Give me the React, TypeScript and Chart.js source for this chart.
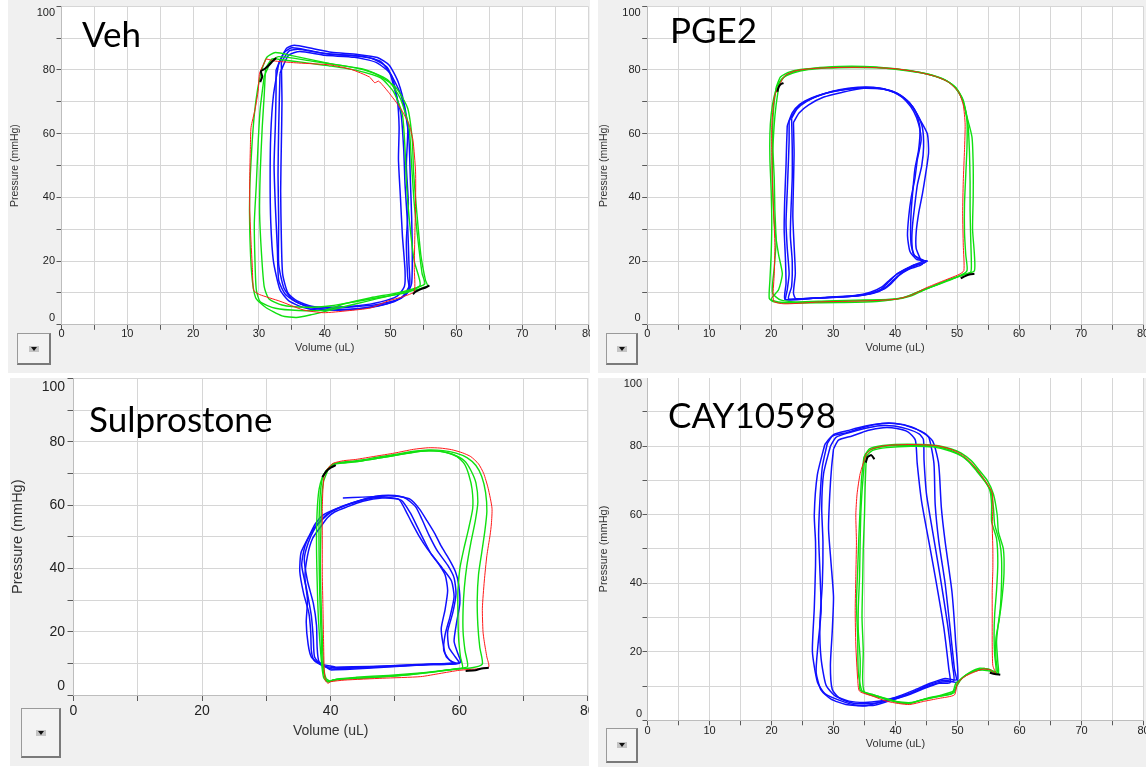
import React, { useEffect, useRef } from 'react';
import { Chart, registerables } from 'chart.js';

Chart.register(...registerables);

type Pt = [number, number];

// ---------------- Veh ----------------
const VEH_BLUE_1: Pt[] = [[33.0,82],[34.2,86.8],[35.4,87.8],[38,86.8],[41,85.6],[45,84.9],[48,83.9],[49.8,81.5],[51.2,76],[52.2,68],[52.8,58],[53,46],[53.2,34],[53.3,22],[53.2,13],[52.5,9.8],[50.5,7.2],[47,5.6],[43,4.8],[39,4.6],[36.5,5.6],[34.5,7.6],[33.2,11],[32.2,20],[31.8,32],[31.7,46],[31.8,60],[32.2,72],[33.0,82]];
const VEH_BLUE_2: Pt[] = [[33.4,82.5],[34.6,86],[36,86.5],[39,85.5],[42,84.8],[46,84.2],[48.6,82.5],[50.2,78],[51,71],[51.3,62],[51.2,52],[51.5,40],[51.8,28],[52.2,17],[52.1,12],[51,9],[48.5,7.2],[45,6],[41,5.5],[38,5.8],[35.8,7.5],[34.4,10],[33.6,16],[33.4,28],[33.3,42],[33.4,56],[33.5,70],[33.4,82.5]];
const VEH_BLUE_3: Pt[] = [[32.6,80],[33.8,85.4],[35,87],[37.5,86.2],[40.5,85],[44,84.6],[47.5,83.4],[49.6,80.5],[50.6,74],[51.6,66],[52,55],[52.2,44],[52.6,31],[52.8,19],[52.9,12.5],[51.8,8.8],[49.5,6.6],[46,5.2],[42,4.6],[38.5,5.2],[36,6.8],[34,9.6],[33,14],[32.8,24],[32.5,37],[32.3,50],[32.5,63],[32.6,73],[32.6,80]];
const VEH_BLUE_4: Pt[] = [[33.2,79],[34.5,84.6],[36.2,85.8],[40,84.6],[44.5,84],[47.8,82.4],[49.9,79],[51.6,72],[52.6,62],[52.4,50],[52.7,38],[52.4,26],[52.6,15],[52.8,11],[51.5,8.2],[48,6.4],[44,5.6],[40,5],[37.5,5.6],[35.2,7.8],[33.8,11.5],[33.0,19],[33.0,33],[32.9,47],[33.0,62],[33.2,79]];
const VEH_GREEN_1: Pt[] = [[30.4,80],[31.2,84],[32.5,85.5],[35,84.5],[40.8,82],[45,80.5],[48,78.5],[50.8,74.5],[52.6,68],[53.3,58],[53.5,48],[54,35],[54.6,22],[55.3,14],[55.6,12.2],[53.5,10.8],[50,9.2],[46,7.2],[42,5.2],[38,3.2],[35.7,2.3],[33.5,2.8],[31,5.5],[29.5,8.5],[28.9,16],[28.6,30],[28.6,42],[28.9,55],[29.3,66],[29.8,74],[30.4,80]];
const VEH_GREEN_2: Pt[] = [[31,80.5],[32,83.5],[33.5,83.2],[37,82.3],[41,81.2],[45,79.8],[48.5,77.5],[50.5,73],[51.8,66],[52.2,55],[52.4,45],[52.9,32],[53.6,20],[54.5,12.5],[52.5,10.2],[49,8.8],[45,7.4],[41,6],[37,5.5],[33.5,6.2],[31.5,8.2],[30.8,12],[30.4,22],[30.1,35],[30.2,48],[30.5,62],[30.8,72],[31,80.5]];
const VEH_GREEN_3: Pt[] = [[30.8,78],[31.8,82.5],[33,84.2],[38,82.8],[42,81.6],[46,80.2],[49.5,77],[51.5,71],[52.8,62],[53.2,50],[53.6,38],[54.2,26],[54.8,16],[55.2,12.8],[53,11],[50.5,9.8],[47,8.5],[43,6.6],[40,4.6],[36,4.5],[32.5,5.2],[30.2,7.2],[29.6,11],[29.4,20],[29.3,32],[29.6,44],[29.9,58],[30.2,68],[30.8,78]];
const VEH_RED: Pt[] = [[31.1,83.5],[32.5,82.8],[36,82.2],[40.8,81.6],[44,80.2],[46.8,77.8],[47.6,76],[48.2,76.5],[49.7,73],[51.5,68],[52.8,63],[53.4,58],[53.8,48],[53.8,38],[53.7,29],[53.6,18],[53.6,10.5],[52,8.9],[49.5,7.4],[47,5.3],[43.4,4.4],[39.8,3.8],[36.7,4.7],[33.2,7.4],[30.1,9.5],[29.2,10.8],[29.0,18],[28.8,26],[28.6,36],[28.6,46],[28.7,56],[28.8,62],[29.4,67.5],[29.9,73.7],[30.1,79],[31.1,83.5]];
const VEH_BLACK_1: Pt[] = [[30.2,76.2],[30.5,78],[30.3,79.6],[30.9,80.4],[31.5,81.5],[32.1,82.8],[32.6,83.8]];
const VEH_BLACK_2: Pt[] = [[53.4,9.6],[53.8,10.4],[54.6,11.2],[55.4,11.8],[55.9,12.4]];

// ---------------- PGE2 ----------------
const PGE2_BLUE_1: Pt[] = [[22.9,64],[23.8,67],[25,69.5],[27.2,71.6],[30,73.3],[33,74.2],[35.3,74.5],[37.5,74.2],[39.5,73.4],[41.2,71.6],[42.6,69],[43.6,66],[44.4,62],[44.6,56],[44.3,50],[43.6,44],[43.2,38],[42.8,31],[42.7,26],[43,22],[44.8,19.5],[43,18.8],[41.5,17.2],[40.2,15.8],[39,13.5],[37.6,11],[35.5,9.6],[32,8.8],[27.2,8.4],[22.4,7.9],[22.6,11],[22.9,16],[22.6,24],[22.4,32],[22.6,42],[22.8,52],[22.9,58],[22.9,64]];
const PGE2_BLUE_2: Pt[] = [[23.3,64.8],[24.2,67.8],[25.8,70.2],[28,72.2],[31,73.8],[34,74.6],[36.5,74.6],[38.6,73.8],[40.4,72.4],[41.8,70.2],[43,67],[43.8,63],[44.2,58],[43.6,52],[43.2,46],[42.6,40],[42.2,34],[42,28],[42.4,23],[43.5,20.5],[45.2,20],[42.6,18],[41,16.2],[39.8,14.2],[38.6,12],[37,10.2],[34.5,9.2],[30,8.6],[25,8.2],[22.8,8.2],[23.3,12],[23.4,20],[23.1,28],[23.2,36],[23.4,46],[23.4,56],[23.3,64.8]];
const PGE2_BLUE_3: Pt[] = [[22.6,62.5],[23.4,66.5],[24.6,69.2],[26.5,71.2],[29,72.8],[32,73.9],[35,74.3],[38,74],[40.2,72.8],[41.6,71],[42.8,68.5],[44,64.5],[45.2,60],[45.4,54],[44.9,47],[44.4,41],[43.8,35],[43.4,29],[43.4,24],[44,21],[44.4,19],[42.2,17.4],[40.6,15.4],[39.4,13],[38.2,11.2],[36,9.8],[33,9],[28,8.5],[24,8.1],[22.2,8],[22.4,13],[22.3,21],[22.1,30],[22.2,40],[22.4,50],[22.5,57],[22.6,62.5]];
const PGE2_BLUE_4: Pt[] = [[23.6,63.5],[24.5,66.5],[26,69],[28.5,71.5],[31.5,73],[34.5,74.2],[37,74.4],[39,73.6],[40.8,72],[42.3,69.8],[43.4,66.5],[44,62],[43.8,55],[43.2,49],[42.9,43],[42.6,36],[42.5,30],[42.6,25],[43.2,21.5],[44.6,20.2],[43.4,19],[41.8,17.6],[40.5,16.2],[39.2,14.2],[37.8,11.8],[36,10.2],[33.5,9.2],[29,8.6],[24,8.2],[23.6,10],[23.9,16],[23.7,25],[23.5,34],[23.6,44],[23.7,54],[23.6,63.5]];
const PGE2_GREEN_1: Pt[] = [[21.0,75.2],[21.8,77.4],[23.5,79],[26,80.1],[29,80.6],[33,80.8],[37,80.7],[40.7,80.2],[44,79.2],[46.6,78],[48.8,76],[50.3,73],[51.3,68],[51.8,62],[52,54],[52.1,45],[52.1,36],[52.2,27],[52.3,20],[52.2,16.5],[50.8,15.6],[48.5,13.8],[46,12],[43.3,10],[41.2,8.5],[38,7.8],[33,7.5],[27.2,7.1],[22.4,6.8],[20.5,7.2],[19.7,8.2],[19.8,14],[20,22],[20.1,32],[20,42],[19.8,52],[19.8,60],[20,66],[20.4,71],[21.0,75.2]];
const PGE2_GREEN_2: Pt[] = [[21.3,75.8],[22.3,78.2],[24,79.6],[27,80.6],[31,81.1],[35,81.1],[39,80.6],[42.5,79.8],[45.5,78.6],[48,77],[49.8,74.5],[51,70.5],[51.6,64],[51.6,56],[51.4,47],[51.2,38],[51.2,29],[51.4,22],[51.6,17],[50.2,15.2],[47.8,13.5],[45,11.2],[42.5,9],[40,8],[35,7.8],[29,7.5],[24,7.2],[21.5,7.8],[20.2,10],[20.5,18],[20.8,26],[20.6,36],[20.5,46],[20.3,55],[20.5,63],[20.8,69],[21.3,75.8]];
const PGE2_GREEN_3: Pt[] = [[20.8,74.5],[21.5,77.8],[23,79.4],[25.5,80.3],[30,80.9],[36,80.9],[41,80],[45,78.8],[47.6,77.2],[49.5,75],[50.8,71],[51.5,66],[52.4,59],[52.6,50],[52.6,40],[52.5,30],[52.8,22],[52.8,17],[51.6,16],[49,14.4],[46.5,12.4],[44,10.6],[41.5,8.6],[37,7.3],[31,7],[25,6.9],[21.5,7.1],[20.0,8],[21.2,11],[21.8,16],[21.2,22],[20.6,30],[20.3,40],[20.2,50],[20.2,58],[20.3,65],[20.5,70],[20.8,74.5]];
const PGE2_RED: Pt[] = [[21.2,74.8],[22.2,78.2],[24,79.8],[27,80.5],[31,80.8],[36,80.8],[40,80.4],[43.5,79.4],[46.5,78],[48.6,76.2],[50.2,73.2],[51,69],[51.3,63],[51.2,55],[51,45],[50.9,35],[51,25],[51.1,17],[50.3,15.8],[47.5,13.6],[45,11.6],[42.5,9.2],[40,8],[35,7.5],[28,7.2],[24,6.7],[22,6.6],[20.5,7.2],[20.3,9],[20.5,16],[20.6,25],[20.4,35],[20.2,45],[20.1,55],[20.1,62],[20.3,68],[20.6,72],[21.2,74.8]];
const PGE2_BLACK_1: Pt[] = [[21.0,73.2],[21.2,74.6],[21.6,75.6],[22.0,75.9]];
const PGE2_BLACK_2: Pt[] = [[50.6,14.6],[51.3,15.3],[52,15.8],[52.8,16]];

// ---------------- Sulprostone ----------------
const SULP_BLUE_1: Pt[] = [[40.2,8.2],[44,8.5],[48,8.9],[52,9.3],[56,9.6],[60,10],[59.4,12],[58.4,15],[58.2,20],[59,26],[59.5,32],[59.2,37],[58.2,41],[56.6,45.5],[55.3,50.5],[54.2,55.5],[53.2,59.5],[51.5,62.3],[49,62.9],[46,62.2],[43.5,60.8],[41.5,59.2],[39.8,57.6],[38.6,55.5],[37.2,52],[36,47],[35.5,41],[36.3,33],[37.0,25],[37.3,18],[37.5,12],[38.6,9.4],[40.2,8.2]];
const SULP_BLUE_2: Pt[] = [[40.5,8.6],[45,8.8],[50,9.2],[55,9.6],[59.5,9.9],[58.5,11],[57.6,14],[57.8,19],[58.6,25],[59.2,31],[58.8,36],[57.4,40],[55.8,44],[54.6,48.5],[53.5,53],[52.4,57.5],[51,61.5],[48.5,62.5],[45.5,61.8],[42.8,60.2],[40.5,58.5],[38.8,56.8],[37.6,54],[36.6,50],[35.4,45],[35.2,39],[35.8,32],[36.6,26],[36.9,20],[37,14],[37.4,11],[38.8,9.2],[40.5,8.6]];
const SULP_BLUE_3: Pt[] = [[40,7.9],[43,8.1],[47,8.6],[52,9.2],[56,9.8],[60.2,10.3],[59.8,13],[59.2,17],[59.6,23],[60.1,29],[59.9,35],[59.4,39],[58.4,43],[57.2,47],[56.2,51],[55,55],[53.8,58.8],[52.4,61.8],[50,63],[47,62.8],[44.5,61.4],[42,59.8],[40.2,58],[38.8,55.6],[37.5,52.5],[36.5,48],[35.9,43],[36.4,36],[37.3,29],[37.8,22],[37.9,15],[38.2,10.5],[40,7.9]];
const SULP_BLUE_4: Pt[] = [[40.8,8.8],[46,9],[51,9.4],[56,9.8],[59,10.1],[58,12],[57.5,16],[57.2,21],[57.8,27],[58.2,33],[57.8,38],[56.6,42],[55.1,46],[53.8,50],[52.6,54.5],[51.6,58.5],[50.6,61.8],[48,62.2],[45,61.2],[42.5,59.4],[40.6,57.8],[39.5,56],[38.4,53],[37.2,49.5],[36.4,44],[36,37],[36.4,30],[36.2,23],[36.5,16],[37,12],[38.2,10],[40.8,8.8]];
const SULP_BLUE_5: Pt[] = [[41.9,62.2],[45,62.5],[48,62.8]];
const SULP_GREEN_1: Pt[] = [[39.4,71],[40.3,72.9],[42,73.6],[44,74],[47,75],[50,76],[53,77],[55.2,77.4],[57.5,77.2],[59.5,76.4],[61.2,75],[62.6,72.5],[63.5,69],[64.1,64],[64.3,58],[64,52],[63.5,45],[63,38],[62.8,30],[62.9,22],[63.2,15],[63.6,9.8],[62,8.6],[59,8.1],[55,7],[50,6],[45,5.3],[41,4.8],[39.8,4.2],[39.2,5],[38.7,10],[38.5,20],[38.3,32],[38.2,44],[38.2,55],[38.4,64],[38.8,69],[39.4,71]];
const SULP_GREEN_2: Pt[] = [[39.2,70.6],[40.2,72.7],[42,73.3],[44.5,73.8],[47.5,74.8],[50.5,75.9],[53.5,76.9],[55.5,77.1],[57.5,76.8],[59.2,75.8],[60.8,74],[61.8,71],[62.6,67],[62.9,61],[62.5,55],[61.8,48],[61.2,41],[60.8,34],[60.6,27],[60.6,20],[60.9,14],[61.3,9],[59.5,8.3],[56,7.3],[52,6.4],[47,5.6],[43,5.2],[40.4,4.8],[39.6,4.1],[38.9,5.5],[38.5,12],[38.1,24],[37.9,36],[37.8,48],[37.9,58],[38.2,65],[38.7,68.8],[39.2,70.6]];
const SULP_GREEN_3: Pt[] = [[39.6,71.2],[40.6,73],[42.3,73.4],[45,74],[48,75],[51,76],[54,77],[56,77.1],[58,76.6],[59.6,75.4],[60.8,73],[61.5,69.5],[62,65],[62.1,59],[61.4,52],[60.7,46],[60.1,40],[59.8,33],[59.8,25],[59.9,18],[60.2,12],[60.5,8.5],[58,7.9],[54,7],[49,6.2],[44,5.6],[41,5.1],[40,4.4],[39.3,5.2],[38.9,9],[38.7,18],[38.5,30],[38.4,42],[38.5,54],[38.6,62],[38.9,67.5],[39.6,71.2]];
const SULP_RED: Pt[] = [[39.5,71.5],[40.4,73.2],[42,74],[43.9,74.4],[46.9,75.4],[49.9,76.4],[52.9,77.6],[55.2,78.1],[57,78],[58.8,77.5],[60.5,76.5],[61.8,75.3],[63,73],[63.8,70],[64.5,65.3],[65.1,59],[65,54],[64.8,50.5],[64.3,44],[63.9,36],[63.6,27.4],[63.7,20],[63.9,16.8],[64.3,12],[64.6,8.9],[63,8.3],[60,7.8],[57,6.8],[54,5.8],[48.1,5.3],[42.1,4.7],[40,4.2],[39.6,3.7],[39.2,4.5],[39,8],[38.9,16.8],[38.8,28],[38.7,38],[38.7,48],[38.7,58.9],[38.8,65],[39.0,69.5],[39.5,71.5]];
const SULP_BLACK_1: Pt[] = [[38.7,68.8],[39.3,70.6],[40,71.8],[40.8,72.6]];
const SULP_BLACK_2: Pt[] = [[61,7.6],[62.5,7.8],[63.5,8.4],[64.6,8.6]];

// ---------------- CAY10598 ----------------
const CAY_BLUE_1: Pt[] = [[28.6,80.5],[29.7,82.9],[32,83.9],[34.5,85.3],[36.6,86.3],[38.9,86.8],[41.1,86.3],[43,85.2],[44.6,83.9],[46,81.5],[46.9,75.6],[47.1,71.7],[47.4,62],[48,52.2],[49.1,37.6],[49.7,22.9],[50,11.2],[48,11.7],[45.1,10.2],[42.3,7.8],[39.4,5.9],[36.6,4.4],[33.7,4.4],[30.9,5.9],[28.6,7.8],[27.4,11.2],[26.6,20],[26.9,32.7],[27.1,45],[27.1,52.2],[26.9,60],[27.4,71.7],[28.6,80.5]];
const CAY_BLUE_2: Pt[] = [[29.5,80],[30.4,82.6],[32.6,84],[35,85.2],[37.5,86],[39.8,85.9],[42,85],[43.8,83.6],[44.5,82],[44.6,76],[45,66],[46,55],[47.2,42],[48.4,28],[49.2,16],[49.4,11.5],[47.5,11.2],[45,9.8],[42.5,8],[40,6.6],[37.5,5.6],[35,5.2],[32.5,5.6],[30.2,7.2],[28.8,10.2],[28.0,18],[27.8,28],[28.2,40],[28.3,52],[28.1,62],[28.4,72],[29.5,80]];
const CAY_BLUE_3: Pt[] = [[30,79.2],[30.8,81.8],[33,83],[35.5,84.6],[38,85.4],[40.2,85.2],[42,84.2],[43.2,81.8],[43.5,75],[44.2,64],[45.4,52],[46.6,40],[47.8,27],[48.6,15],[48.8,11],[47,10.8],[44.5,9.2],[41.8,7.2],[39,5.8],[36.2,4.9],[33.2,5],[31,6.4],[29.8,9],[29.5,16],[29.8,26],[30,36],[29.6,46],[29.2,56],[29.4,66],[29.7,74],[30,79.2]];
const CAY_BLUE_4: Pt[] = [[29,80.8],[30,83.4],[32.4,84.6],[35,85.8],[37.8,86.6],[40,86.6],[42.6,85.6],[44.4,84],[45.4,82.5],[46.2,75],[46.4,63],[47,52],[48,40],[48.8,27],[49.5,15],[49.8,11.8],[48,12.2],[45.6,10.8],[43,8.8],[40.5,7],[37.8,5.5],[35,4.2],[32,4.6],[29.6,6.2],[28,8.8],[27.2,14],[27.5,22],[28,32],[27.8,44],[27.6,54],[27.8,64],[28.2,74],[29,80.8]];
const CAY_GREEN_1: Pt[] = [[35.1,77.6],[36,79],[38.3,80],[42.3,80.3],[46.3,80],[48.6,79],[50.3,77.6],[51.8,75.5],[53.1,72.7],[54.5,69.5],[55.4,66.8],[55.8,62],[56,57.1],[56.8,52],[57.1,47.3],[57.1,40],[56.9,32.7],[56.5,27],[56.3,22.9],[56.5,17],[56.6,13.7],[55.4,14.6],[54.3,15.1],[52.5,14.2],[51.4,13.2],[50.2,11.5],[49.7,10.7],[49.1,7.8],[46.3,6.8],[44,5.9],[42.3,4.9],[40.6,5.2],[39.4,5.9],[36.6,7.3],[34.3,8.8],[34.3,14],[34.3,18],[34,26],[34,32.7],[34.2,42],[34.3,52.2],[34.4,60],[34.6,66.8],[34.9,73.7],[35.1,77.6]];
const CAY_GREEN_2: Pt[] = [[35.3,77.2],[36.3,78.8],[38.6,79.6],[42.5,80],[46,79.8],[48.8,78.6],[50.8,77],[52.6,74.2],[54.2,70.5],[55.2,67.2],[55.5,63],[55.5,58],[56.3,53],[56.5,46],[56.3,38],[56,31],[55.9,25],[56,19],[56.2,14.2],[55,14.9],[53.6,15.2],[52,14],[50.8,12.4],[49.9,10],[49.4,8],[47,7],[44.5,6],[42.6,5.2],[40,5.5],[37.5,6.6],[35,8.2],[34.7,12],[34.8,20],[34.6,30],[34.7,40],[34.8,50],[35,60],[35.1,68],[35.2,73],[35.3,77.2]];
const CAY_GREEN_3: Pt[] = [[34.9,76.8],[35.8,79.2],[38,80.2],[42,80.6],[46.6,80.2],[49,79.2],[50.6,78],[52.2,75.8],[53.5,73],[54.8,70],[55.8,66],[56.4,60],[56.6,55],[57.4,50],[57.5,43],[57.2,36],[56.7,29],[56.2,24],[56.2,18],[56.4,14],[55.2,14.4],[54,14.7],[52.8,14.4],[51.2,13],[50.1,11.2],[49.4,8.6],[47.5,7.4],[45,6.4],[42.8,5.1],[41,5],[38.8,6],[36.2,7.6],[34.6,8.6],[34.0,14],[33.9,24],[33.7,34],[33.9,44],[34.1,54],[34.3,62],[34.5,70],[34.9,76.8]];
const CAY_RED: Pt[] = [[35.3,77.8],[36.2,79.2],[38.5,80.2],[42.5,80.5],[46.5,80.2],[48.8,79.2],[50.5,77.8],[52,75.6],[53.3,72.8],[54.6,69.6],[55.6,66.4],[55.7,62],[55.6,57],[55.7,50],[55.7,44],[55.6,38],[55.6,30],[55.6,22],[55.7,16],[56.2,13.4],[55.2,14.8],[54,14.9],[52.6,14],[51.2,12.8],[50,10.8],[49.5,7.4],[47,6.4],[44.5,5.5],[42.3,4.6],[40.5,4.9],[38.5,5.6],[36.4,7],[34.2,8.5],[33.9,12],[33.6,22],[33.5,32],[33.6,42],[33.7,52],[33.6,60],[33.8,66],[34.3,72],[35.3,77.8]];
const CAY_BLACK_1: Pt[] = [[35.2,75.2],[35.5,76.8],[36.1,77.4],[36.6,76.2]];
const CAY_BLACK_2: Pt[] = [[55.2,13.9],[56,13.5],[56.9,13.3]];

// axis settings
const X_MIN = 0, X_MAX = 80, Y_MIN = 0, Y_MAX = 100;
const Y_STEP = 10, Y_LABEL_STEP = 20;
const X_TITLE = 'Volume (uL)';
const Y_TITLE = 'Pressure (mmHg)';

const BLUE = '#1010ff';
const GREEN = '#10e010';
const RED = '#ff1a1a';
const BLACK = '#000000';
const FONT = '"Liberation Sans", Arial, sans-serif';
const NAME_FONT = 'Lato, "Noto Sans", sans-serif';

interface Spec {
  name: string;
  box: [number, number, number, number];
  plot: [number, number, number, number];
  xStep: number; xLabelStep: number;
  tickSize: number; xTitleSize: number; yTitleSize: number;
  tickLen: number; xPad: number; yPad: number;
  yTitleX: number; xTitleY: number;
  nameX: number; nameBase: number; nameSize: number;
  button: [number, number, number, number];
  blue: Pt[][]; green: Pt[][]; red: Pt[][]; black: Pt[][];
}

const SPECS: Spec[] = [
  {
    name: 'Veh', box: [8, 0, 590, 373], plot: [61.5, 6.3, 588, 324.8],
    xStep: 5, xLabelStep: 10, tickSize: 11, xTitleSize: 11, yTitleSize: 10.5,
    tickLen: 5, xPad: -2, yPad: 1.5, yTitleX: 15.4, xTitleY: 347.7,
    nameX: 82, nameBase: 46.7, nameSize: 35, button: [17, 333, 51, 365],
    blue: [VEH_BLUE_1, VEH_BLUE_2, VEH_BLUE_3, VEH_BLUE_4],
    green: [VEH_GREEN_1, VEH_GREEN_2, VEH_GREEN_3], red: [VEH_RED], black: [VEH_BLACK_1, VEH_BLACK_2],
  },
  {
    name: 'PGE2', box: [598, 0, 1146, 373], plot: [647.2, 6.3, 1143, 324.8],
    xStep: 5, xLabelStep: 10, tickSize: 11, xTitleSize: 11, yTitleSize: 10.5,
    tickLen: 5, xPad: -2, yPad: 1.5, yTitleX: 604, xTitleY: 347.7,
    nameX: 670, nameBase: 43.3, nameSize: 35, button: [606, 333, 638, 365],
    blue: [PGE2_BLUE_1, PGE2_BLUE_2, PGE2_BLUE_3, PGE2_BLUE_4],
    green: [PGE2_GREEN_1, PGE2_GREEN_2, PGE2_GREEN_3], red: [PGE2_RED], black: [PGE2_BLACK_1, PGE2_BLACK_2],
  },
  {
    name: 'Sulprostone', box: [10, 378, 589, 766], plot: [73.5, 378.4, 587.8, 695],
    xStep: 10, xLabelStep: 20, tickSize: 14, xTitleSize: 14, yTitleSize: 14.5,
    tickLen: 6, xPad: 2, yPad: 2.5, yTitleX: 18.4, xTitleY: 731,
    nameX: 89, nameBase: 431.7, nameSize: 35, button: [21, 708, 61, 758],
    blue: [SULP_BLUE_1, SULP_BLUE_2, SULP_BLUE_3, SULP_BLUE_4, SULP_BLUE_5],
    green: [SULP_GREEN_1, SULP_GREEN_2, SULP_GREEN_3], red: [SULP_RED], black: [SULP_BLACK_1, SULP_BLACK_2],
  },
  {
    name: 'CAY10598', box: [598, 378, 1146, 767], plot: [647.5, 377.7, 1143.5, 720.3],
    xStep: 5, xLabelStep: 10, tickSize: 11, xTitleSize: 11, yTitleSize: 11,
    tickLen: 5, xPad: -1, yPad: 0.5, yTitleX: 604, xTitleY: 744.3,
    nameX: 668, nameBase: 428.3, nameSize: 35, button: [606, 728, 638, 763],
    blue: [CAY_BLUE_1, CAY_BLUE_2, CAY_BLUE_3, CAY_BLUE_4],
    green: [CAY_GREEN_1, CAY_GREEN_2, CAY_GREEN_3], red: [CAY_RED], black: [CAY_BLACK_1, CAY_BLACK_2],
  },
];

const EXT = 20;

// y labels at the extremes are kept inside the plot (shifted by half a line), as in the original software
const yLabel = (v: number): string | string[] => {
  const n = Math.round(v);
  if (n % Y_LABEL_STEP !== 0) return '';
  if (n === Y_MAX) return ['', String(n)];
  if (n === Y_MIN) return [String(n), ''];
  return String(n);
};

function Panel({ spec }: { spec: Spec }) {
  const ref = useRef<HTMLCanvasElement | null>(null);
  const [bl, bt, br, bb] = spec.box;
  const cLeft = bl - EXT, cTop = bt - EXT;
  const cw = br - bl + 2 * EXT, ch = bb - bt + 2 * EXT;

  useEffect(() => {
    if (!ref.current) return;
    const [pl, pt, pr, pb] = spec.plot;
    const yW = pl - cLeft;
    const xH = cTop + ch - pb;
    const padTop = pt - cTop;
    const padRight = cLeft + cw - pr;
    const xLH = spec.xTitleSize * 1.2;
    const yLH = spec.yTitleSize * 1.2;
    const line = (pts: Pt[], color: string, w: number) => ({
      data: pts, borderColor: color, backgroundColor: color, borderWidth: w,
      pointRadius: 0, pointHoverRadius: 0, fill: false, tension: 0.2, showLine: true,
    });
    const datasets = [
      ...spec.black.map((d) => line(d, BLACK, 2)),
      ...spec.red.map((d) => line(d, RED, 1)),
      ...spec.green.map((d) => line(d, GREEN, 1.4)),
      ...spec.blue.map((d) => line(d, BLUE, 1.5)),
    ];
    const bgPlugin = {
      id: 'plotBg',
      beforeDraw(chart: any) {
        const { ctx, chartArea } = chart;
        ctx.save();
        ctx.fillStyle = '#ffffff';
        ctx.fillRect(chartArea.left, chartArea.top, chartArea.right - chartArea.left, chartArea.bottom - chartArea.top);
        ctx.restore();
      },
    };
    const namePlugin = {
      id: 'panelName',
      afterDraw(chart: any) {
        const ctx = chart.ctx;
        ctx.save();
        ctx.font = `${spec.nameSize}px ${NAME_FONT}`;
        ctx.fillStyle = '#000';
        ctx.textBaseline = 'alphabetic';
        ctx.textAlign = 'left';
        ctx.fillText(spec.name, spec.nameX - cLeft, spec.nameBase - cTop);
        ctx.restore();
      },
    };
    const chart = new Chart(ref.current, {
      type: 'line',
      data: { datasets: datasets as any },
      options: {
        animation: false,
        responsive: false,
        maintainAspectRatio: false,
        events: [],
        layout: { padding: { left: 0, top: padTop, right: padRight, bottom: 0 } },
        plugins: { legend: { display: false }, tooltip: { enabled: false } },
        scales: {
          x: {
            type: 'linear', min: X_MIN, max: X_MAX, position: 'bottom',
            ticks: {
              stepSize: spec.xStep, autoSkip: false, maxRotation: 0, minRotation: 0,
              padding: spec.xPad, color: '#222',
              font: { family: FONT, size: spec.tickSize, lineHeight: 1.2 },
              callback: (v: any) => (Math.round(Number(v)) % spec.xLabelStep === 0 ? String(v) : ''),
            },
            grid: { color: '#d6d6d6', lineWidth: 1, drawTicks: true, tickLength: spec.tickLen, tickColor: '#5a5a5a' },
            border: { display: true, color: '#bdbdbd' },
            title: {
              display: true, text: X_TITLE, color: '#333',
              font: { family: FONT, size: spec.xTitleSize, lineHeight: 1.2 },
              padding: { top: 0, bottom: cTop + ch - spec.xTitleY - xLH / 2 },
            },
            afterFit: (s: any) => { s.height = xH; },
          },
          y: {
            type: 'linear', min: Y_MIN, max: Y_MAX, position: 'left',
            ticks: {
              stepSize: Y_STEP, autoSkip: false, padding: spec.yPad, color: '#222',
              font: { family: FONT, size: spec.tickSize, lineHeight: 1.2 },
              callback: (v: any) => yLabel(Number(v)),
            },
            grid: { color: '#d6d6d6', lineWidth: 1, drawTicks: true, tickLength: spec.tickLen, tickColor: '#5a5a5a' },
            border: { display: true, color: '#bdbdbd' },
            title: {
              display: true, text: Y_TITLE, color: '#333',
              font: { family: FONT, size: spec.yTitleSize, lineHeight: 1.2 },
              padding: { top: spec.yTitleX - cLeft - yLH / 2, bottom: 0 },
            },
            afterFit: (s: any) => { s.width = yW; },
          },
        },
      } as any,
      plugins: [bgPlugin, namePlugin],
    });
    return () => chart.destroy();
  }, []);

  const [btl, btt, btr, btb] = spec.button;
  const bw = btr - btl, bh = btb - btt;
  return (
    <div style={{ position: 'absolute', left: bl, top: bt, width: br - bl, height: bb - bt, background: '#f0f0f0', overflow: 'hidden' }}>
      <canvas ref={ref} width={cw} height={ch} style={{ position: 'absolute', left: -EXT, top: -EXT, width: cw, height: ch }} />
      <div style={{
        position: 'absolute', left: btl - bl, top: btt - bt, width: bw - 3, height: bh - 3,
        background: '#f3f3f3', borderTop: '1px solid #9a9a9a', borderLeft: '1px solid #9a9a9a',
        borderRight: '2px solid #7a7a7a', borderBottom: '2px solid #7a7a7a', boxSizing: 'content-box',
      }}>
        <div style={{
          position: 'absolute', left: (bw - 3) / 2 - 5, top: (bh - 3) / 2 - 3, width: 10, height: 6,
          background: '#c4c4c4',
        }}>
          <div style={{
            position: 'absolute', left: 2, top: 1, width: 0, height: 0,
            borderLeft: '3px solid transparent', borderRight: '3px solid transparent', borderTop: '4px solid #111',
          }} />
        </div>
      </div>
    </div>
  );
}

export default function App() {
  return (
    <div style={{ position: 'absolute', left: 0, top: 0, width: 1147, height: 768, background: '#ffffff', overflow: 'hidden' }}>
      {SPECS.map((s) => <Panel key={s.name} spec={s} />)}
    </div>
  );
}
